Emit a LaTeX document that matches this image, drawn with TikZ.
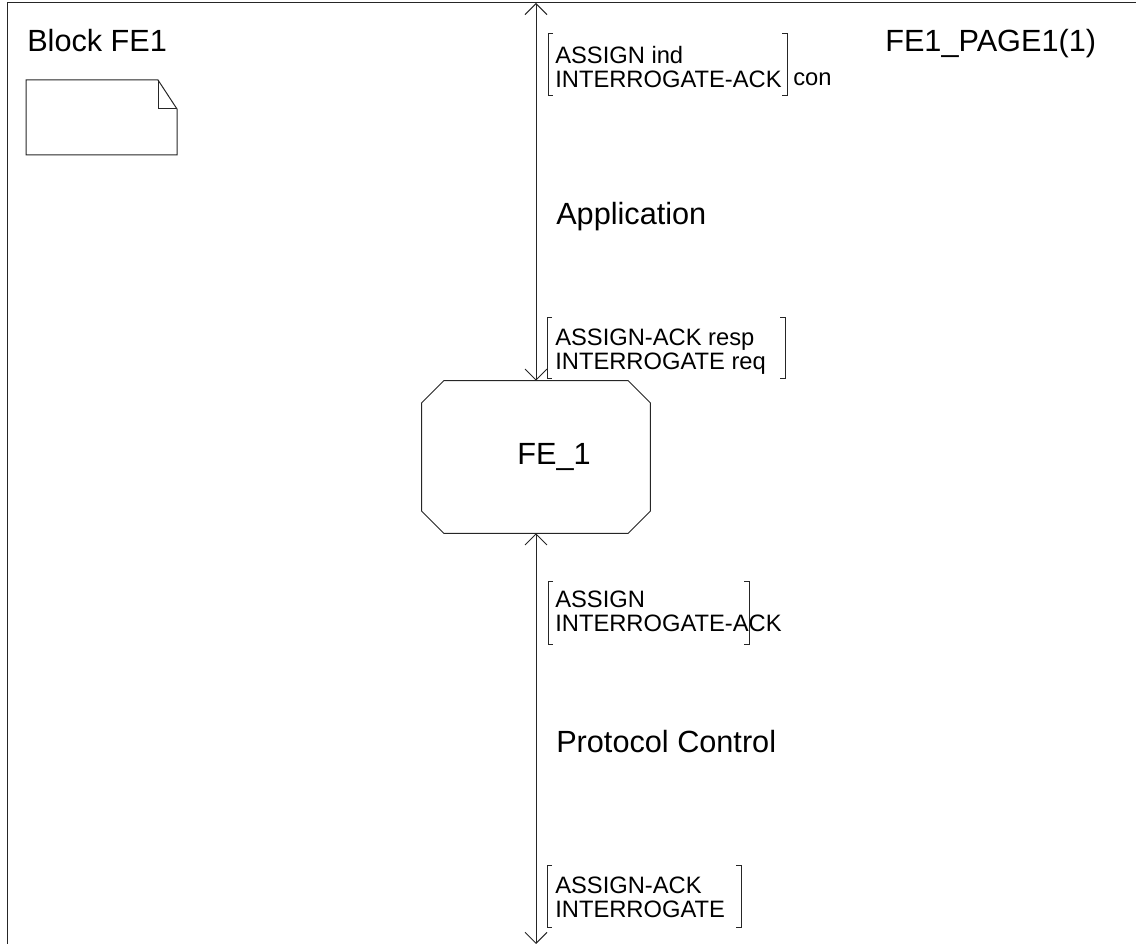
\documentclass[tikz,border=0pt]{standalone}
\usepackage{fontspec}
\setmainfont{Liberation Sans}
\usetikzlibrary{arrows.meta,calc}
\newcommand\sigbr[4]{%
  \draw[frame] (#1+5,#3) -- (#1,#3) -- (#1,#4) -- (#1+5,#4);
  \draw[frame] (#2-5,#3) -- (#2,#3) -- (#2,#4) -- (#2-5,#4);}
\begin{document}
\begin{tikzpicture}[x=0.75pt,y=-0.75pt,
  frame/.style={draw=black!85,line width=0.75pt},
  bigtext/.style={inner sep=0pt,font=\fontsize{23pt}{26pt}\selectfont},
  sigtext/.style={inner sep=0pt,align=left,anchor=north west,font=\fontsize{17.8pt}{18pt}\selectfont},
  route/.style={draw=black!85,line width=0.75pt,{Straight Barb[length=8.25pt,width=16.5pt]}-{Straight Barb[length=8.25pt,width=16.5pt]}},
  procbox/.style={draw=none,minimum width=171pt,minimum height=114pt,inner sep=0pt,font=\fontsize{23pt}{26pt}\selectfont}]
\useasboundingbox (0,0) rectangle (1136,944);
% frame
\draw[frame] (1136,3) -- (7,3) -- (7,944);
% header texts
\node[bigtext,anchor=base west] (blk) at (27,52) {Block FE1};
\node[bigtext,anchor=base west] (page) at (885,52) {FE1\_PAGE1(1)};
% note symbol
\draw[frame] (26,80) -- (158,80) -- (177,109) -- (177,155) -- (26,155) -- cycle;
\draw[frame] (158,80) -- (158,109) -- (177,109);
% process FE_1
\node[procbox] (fe) at (536,457) {\hspace*{27pt}FE\_1};
\draw[frame] ($(fe.north west)+(22,0)$) -- ($(fe.north east)+(-22,0)$) -- ($(fe.north east)+(0,22)$)
  -- ($(fe.south east)+(0,-22)$) -- ($(fe.south east)+(-22,0)$) -- ($(fe.south west)+(22,0)$)
  -- ($(fe.south west)+(0,-22)$) -- ($(fe.north west)+(0,22)$) -- cycle;
% route ends
\coordinate (topend) at (536,3);
\coordinate (botend) at (536,944);
\draw[route] (topend) -- (fe.north);
\draw[route] (fe.south) -- (botend);
% channel names
\node[bigtext,anchor=base west] (app) at (556,225) {Application};
\node[bigtext,anchor=base west] (pc) at (556,753) {Protocol Control};
% signal lists
\node[sigtext] (s1) at (555,46) {ASSIGN ind\\INTERROGATE-ACK};
\sigbr{548}{787}{34}{96}
\node[sigtext,anchor=base west] (s1b) at (793,86) {con};
\node[sigtext] (s2) at (555,329) {ASSIGN-ACK resp\\INTERROGATE req};
\sigbr{547}{785}{318}{379}
\node[sigtext] (s3) at (555,591) {ASSIGN\\INTERROGATE-ACK};
\sigbr{548}{749}{582}{645}
\node[sigtext] (s4) at (555,877) {ASSIGN-ACK\\INTERROGATE};
\sigbr{547}{741}{865}{927}
\end{tikzpicture}
\end{document}
